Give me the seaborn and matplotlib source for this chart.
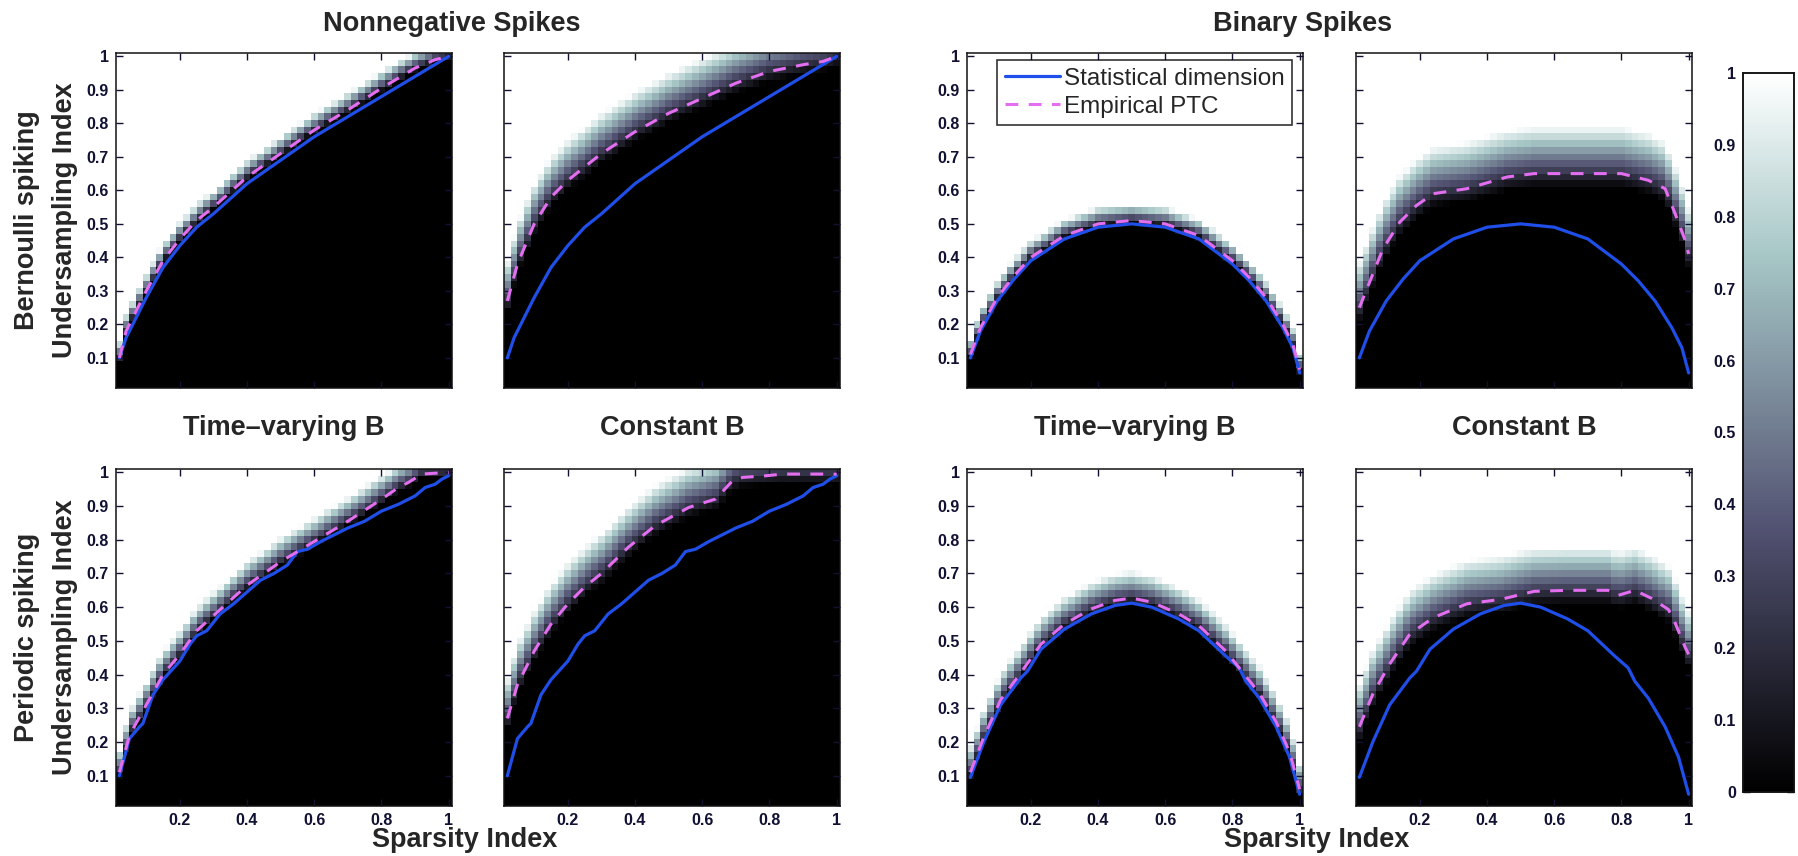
import numpy as np
import pandas as pd
import matplotlib
matplotlib.use("Agg")
import matplotlib.pyplot as plt
import seaborn as sns

sns.set_theme(style="white")
plt.rcParams["font.family"] = ["Liberation Sans", "DejaVu Sans"]

# ---------------------------------------------------------------- grid
sparsity = np.round(np.arange(1, 51) * 0.02, 2)        # columns
undersampling = np.round(np.arange(1, 51) * 0.02, 2)   # rows

# ---------------------------------------------------------------- curves
# statistical dimension, nonnegative spikes, Bernoulli spiking
sd_nn_bern_x = [0.02, 0.04, 0.06, 0.10, 0.15, 0.20, 0.25, 0.30, 0.40, 0.50, 0.60, 0.70, 0.80, 0.90, 1.00]
sd_nn_bern_y = [0.10, 0.16, 0.20, 0.28, 0.37, 0.435, 0.49, 0.53, 0.62, 0.69, 0.76, 0.82, 0.88, 0.94, 1.00]

# empirical PTC, nonnegative / Bernoulli / time-varying B
ptc_nn_bern_tv_x = [0.02, 0.04, 0.06, 0.10, 0.15, 0.20, 0.25, 0.30, 0.40, 0.50, 0.60, 0.70, 0.80, 0.90, 0.96, 1.00]
ptc_nn_bern_tv_y = [0.10, 0.18, 0.22, 0.30, 0.39, 0.455, 0.51, 0.55, 0.64, 0.71, 0.78, 0.84, 0.905, 0.965, 0.99, 1.00]

# empirical PTC, nonnegative / Bernoulli / constant B
ptc_nn_bern_cb_x = [0.02, 0.05, 0.10, 0.15, 0.20, 0.30, 0.40, 0.50, 0.60, 0.70, 0.80, 0.90, 0.96, 1.00]
ptc_nn_bern_cb_y = [0.27, 0.38, 0.50, 0.58, 0.63, 0.71, 0.775, 0.83, 0.875, 0.92, 0.955, 0.975, 0.985, 1.00]

# statistical dimension, binary spikes, Bernoulli spiking
sd_bin_bern_x = [0.02, 0.05, 0.10, 0.15, 0.20, 0.30, 0.40, 0.50, 0.60, 0.70, 0.80, 0.85, 0.90, 0.95, 0.98, 1.00]
sd_bin_bern_y = [0.10, 0.18, 0.27, 0.335, 0.39, 0.455, 0.49, 0.50, 0.49, 0.455, 0.38, 0.33, 0.27, 0.19, 0.13, 0.055]

# empirical PTC, binary / Bernoulli / time-varying B
ptc_bin_bern_tv_x = [0.02, 0.05, 0.10, 0.15, 0.20, 0.30, 0.40, 0.50, 0.60, 0.70, 0.80, 0.85, 0.90, 0.95, 0.98, 1.00]
ptc_bin_bern_tv_y = [0.11, 0.19, 0.28, 0.345, 0.40, 0.465, 0.50, 0.51, 0.50, 0.465, 0.39, 0.34, 0.28, 0.20, 0.14, 0.065]

# empirical PTC, binary / Bernoulli / constant B
ptc_bin_bern_cb_x = [0.02, 0.04, 0.09, 0.14, 0.19, 0.24, 0.34, 0.46, 0.54, 0.64, 0.80, 0.88, 0.93, 0.96, 0.99, 1.00]
ptc_bin_bern_cb_y = [0.25, 0.30, 0.425, 0.505, 0.555, 0.59, 0.605, 0.64, 0.65, 0.65, 0.65, 0.63, 0.605, 0.53, 0.45, 0.41]

# statistical dimension, nonnegative spikes, periodic spiking
sd_nn_per_x = [0.02, 0.05, 0.08, 0.09, 0.12, 0.15, 0.20, 0.23, 0.25, 0.28, 0.32, 0.36, 0.40, 0.44, 0.48,
               0.52, 0.55, 0.58, 0.62, 0.66, 0.70, 0.75, 0.80, 0.85, 0.90, 0.93, 0.96, 0.98, 1.00]
sd_nn_per_y = [0.10, 0.21, 0.245, 0.255, 0.34, 0.385, 0.44, 0.49, 0.515, 0.53, 0.58, 0.61, 0.645, 0.68, 0.70,
               0.725, 0.765, 0.772, 0.795, 0.815, 0.835, 0.855, 0.885, 0.905, 0.93, 0.955, 0.965, 0.98, 0.99]

# empirical PTC, nonnegative / periodic / time-varying B
ptc_nn_per_tv_x = [0.02, 0.05, 0.10, 0.15, 0.20, 0.25, 0.30, 0.40, 0.50, 0.60, 0.70, 0.80, 0.85, 0.88, 0.92, 1.00]
ptc_nn_per_tv_y = [0.11, 0.22, 0.31, 0.40, 0.46, 0.53, 0.575, 0.665, 0.735, 0.795, 0.855, 0.92, 0.955, 0.97, 0.995, 1.00]

# empirical PTC, nonnegative / periodic / constant B
ptc_nn_per_cb_x = [0.02, 0.05, 0.10, 0.15, 0.20, 0.25, 0.30, 0.38, 0.46, 0.56, 0.64, 0.69, 0.72, 0.79, 0.84, 1.00]
ptc_nn_per_cb_y = [0.27, 0.37, 0.47, 0.55, 0.61, 0.66, 0.70, 0.778, 0.842, 0.896, 0.921, 0.975, 0.985, 0.99, 0.995, 0.995]

# statistical dimension, binary spikes, periodic spiking
sd_bin_per_x = [0.02, 0.06, 0.11, 0.17, 0.19, 0.23, 0.30, 0.38, 0.45, 0.50, 0.56, 0.64, 0.70, 0.78,
                0.82, 0.84, 0.88, 0.93, 0.97, 1.00]
sd_bin_per_y = [0.095, 0.20, 0.31, 0.39, 0.41, 0.475, 0.535, 0.58, 0.605, 0.612, 0.60, 0.565, 0.53, 0.455,
                0.42, 0.38, 0.33, 0.245, 0.155, 0.045]

# empirical PTC, binary / periodic / time-varying B
ptc_bin_per_tv_x = [0.02, 0.06, 0.11, 0.17, 0.23, 0.30, 0.38, 0.45, 0.50, 0.56, 0.64, 0.70, 0.78, 0.84, 0.88, 0.93, 0.97, 1.00]
ptc_bin_per_tv_y = [0.11, 0.215, 0.325, 0.405, 0.49, 0.55, 0.595, 0.62, 0.627, 0.615, 0.58, 0.545, 0.47, 0.395, 0.345, 0.26, 0.17, 0.06]

# empirical PTC, binary / periodic / constant B
ptc_bin_per_cb_x = [0.02, 0.06, 0.11, 0.17, 0.24, 0.34, 0.44, 0.54, 0.64, 0.76, 0.79, 0.84, 0.89, 0.94, 0.96, 0.99, 1.00]
ptc_bin_per_cb_y = [0.245, 0.342, 0.431, 0.52, 0.569, 0.61, 0.623, 0.647, 0.65, 0.65, 0.635, 0.65, 0.626, 0.593, 0.553, 0.48, 0.46]

# width of the transition band below / above each empirical PTC
band_below = [0.010, 0.030, 0.010, 0.040, 0.015, 0.030, 0.020, 0.040]
band_above = [0.050, 0.120, 0.050, 0.140, 0.070, 0.120, 0.080, 0.130]

# ---------------------------------------------------------------- labels
group_titles = ["Nonnegative Spikes", "Binary Spikes"]
column_titles = ["Time\u2013varying B", "Constant B", "Time\u2013varying B", "Constant B"]
row_labels = ["Bernoulli spiking\nUndersampling Index", "Periodic spiking\nUndersampling Index"]
x_label = "Sparsity Index"
legend_labels = ["Statistical dimension", "Empirical PTC"]
x_tick_values = [0.2, 0.4, 0.6, 0.8, 1.0]
x_tick_labels = ["0.2", "0.4", "0.6", "0.8", "1"]
y_tick_values = [0.1, 0.2, 0.3, 0.4, 0.5, 0.6, 0.7, 0.8, 0.9, 1.0]
y_tick_labels = ["0.1", "0.2", "0.3", "0.4", "0.5", "0.6", "0.7", "0.8", "0.9", "1"]
cbar_tick_values = [0.0, 0.1, 0.2, 0.3, 0.4, 0.5, 0.6, 0.7, 0.8, 0.9, 1.0]
cbar_tick_labels = ["0", "0.1", "0.2", "0.3", "0.4", "0.5", "0.6", "0.7", "0.8", "0.9", "1"]

panels = [
    (sd_nn_bern_x, sd_nn_bern_y, ptc_nn_bern_tv_x, ptc_nn_bern_tv_y),
    (sd_nn_bern_x, sd_nn_bern_y, ptc_nn_bern_cb_x, ptc_nn_bern_cb_y),
    (sd_bin_bern_x, sd_bin_bern_y, ptc_bin_bern_tv_x, ptc_bin_bern_tv_y),
    (sd_bin_bern_x, sd_bin_bern_y, ptc_bin_bern_cb_x, ptc_bin_bern_cb_y),
    (sd_nn_per_x, sd_nn_per_y, ptc_nn_per_tv_x, ptc_nn_per_tv_y),
    (sd_nn_per_x, sd_nn_per_y, ptc_nn_per_cb_x, ptc_nn_per_cb_y),
    (sd_bin_per_x, sd_bin_per_y, ptc_bin_per_tv_x, ptc_bin_per_tv_y),
    (sd_bin_per_x, sd_bin_per_y, ptc_bin_per_cb_x, ptc_bin_per_cb_y),
]


def success_rate(ptc_x, ptc_y, below, above):
    """Recovery rate on the grid: 0 below the transition band, 1 above it."""
    boundary = np.interp(sparsity, ptc_x, ptc_y)
    dist = undersampling[:, None] - boundary[None, :]
    rate = np.clip((dist + below) / (below + above), 0.0, 1.0)
    return pd.DataFrame(rate[::-1], index=undersampling[::-1], columns=sparsity)


# ---------------------------------------------------------------- layout
W, H = 1799, 856
fig = plt.figure(figsize=(W / 100, H / 100), dpi=100)

def frac_rect(x0, y0, x1, y1):
    return [x0 / W, 1 - y1 / H, (x1 - x0) / W, (y1 - y0) / H]

col_px = [(116, 452), (504, 840), (967, 1303), (1356, 1692)]
row_px = [(53, 388), (469, 806)]

BLUE = "#1f4fe8"
MAGENTA = "#e36ef0"
TICK_FS = 11.5
BIG_FS = 19.5

cax = fig.add_axes(frac_rect(1743, 73, 1794, 792))

for i, (sx, sy, px, py) in enumerate(panels):
    r, c = divmod(i, 4)
    rect = frac_rect(col_px[c][0], row_px[r][0], col_px[c][1], row_px[r][1])
    ax = fig.add_axes(rect)
    grid = success_rate(px, py, band_below[i], band_above[i])
    sns.heatmap(grid, ax=ax, cmap="bone", vmin=0, vmax=1,
                cbar=(i == 0), cbar_ax=cax if i == 0 else None,
                xticklabels=False, yticklabels=False)
    ax.set_xlabel("")
    ax.set_ylabel("")
    ax.tick_params(left=False, bottom=False)

    # overlay in sparsity / undersampling units
    ov = fig.add_axes(rect)
    ov.patch.set_alpha(0)
    sns.lineplot(x=sx, y=sy, ax=ov, color=BLUE, lw=2.3, legend=False,
                 label=legend_labels[0])
    sns.lineplot(x=px, y=py, ax=ov, color=MAGENTA, lw=2.2, legend=False,
                 label=legend_labels[1])
    ov.lines[-1].set_linestyle((0, (4.2, 3.4)))
    ov.set_xlim(0.01, 1.01)
    ov.set_ylim(0.01, 1.01)
    ov.set_xlabel("")
    ov.set_ylabel("")
    ov.set_xticks(x_tick_values, labels=x_tick_labels if r == 1 else [""] * len(x_tick_values))
    ov.set_yticks(y_tick_values, labels=y_tick_labels if c in (0, 2) else [""] * len(y_tick_values))
    ov.tick_params(direction="in", length=5, width=1.0, top=True, right=True,
                   bottom=True, left=True, labelsize=TICK_FS, colors="#111133", pad=5)
    for lab in ov.get_xticklabels() + ov.get_yticklabels():
        lab.set_fontweight("bold")
    for sp in ov.spines.values():
        sp.set_visible(True)
        sp.set_color("#111111")
        sp.set_linewidth(1.1)

    if i == 2:
        leg = ov.legend(handles=ov.lines[:2], labels=legend_labels,
                        loc="upper left", bbox_to_anchor=(0.09, 0.978),
                        fontsize=17.5, frameon=True, fancybox=False,
                        handlelength=2.3, handletextpad=0.15, borderpad=0.3,
                        labelspacing=0.25, borderaxespad=0.0)
        leg.get_frame().set_edgecolor("black")
        leg.get_frame().set_linewidth(1.2)

    if r == 1:
        fig.text((col_px[c][0] + col_px[c][1]) / 2 / W, 1 - 428 / H, column_titles[c],
                 ha="center", va="center", fontsize=BIG_FS, fontweight="bold")

# colour bar
cax.set_yticks(cbar_tick_values, labels=cbar_tick_labels)
cax.tick_params(direction="in", length=5, width=1.0, left=True, right=True,
                labelleft=True, labelright=False, labelsize=TICK_FS, colors="#111133", pad=5)
for lab in cax.get_yticklabels():
    lab.set_fontweight("bold")
for sp in cax.spines.values():
    sp.set_visible(True)
    sp.set_color("#111111")
    sp.set_linewidth(1.1)
cb = getattr(cax.collections[0], "colorbar", None) if cax.collections else None
if cb is not None:
    cb.outline.set_edgecolor("#111111")
    cb.outline.set_linewidth(1.1)

# group titles, row labels, axis labels
fig.text(452 / W, 1 - 24 / H, group_titles[0], ha="center", va="center",
         fontsize=BIG_FS, fontweight="bold")
fig.text(1303 / W, 1 - 24 / H, group_titles[1], ha="center", va="center",
         fontsize=BIG_FS, fontweight="bold")
for r, lab in enumerate(row_labels):
    yc = (row_px[r][0] + row_px[r][1]) / 2
    fig.text(46 / W, 1 - yc / H, lab, rotation=90, ha="center", va="center",
             fontsize=BIG_FS, fontweight="bold", linespacing=1.6)
fig.text(465 / W, 1 - 840 / H, x_label, ha="center", va="center",
         fontsize=BIG_FS, fontweight="bold")
fig.text(1317 / W, 1 - 840 / H, x_label, ha="center", va="center",
         fontsize=BIG_FS, fontweight="bold")

fig.savefig("out.png", dpi=100)
